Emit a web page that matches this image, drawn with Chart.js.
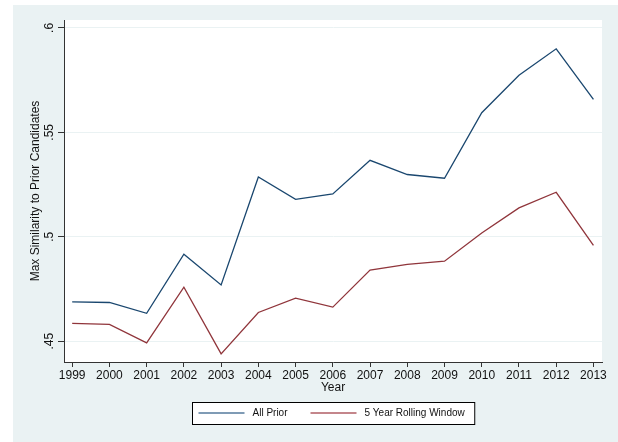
<!DOCTYPE html>
<html>
<head>
<meta charset="utf-8">
<script src="https://cdn.jsdelivr.net/npm/chart.js@4/dist/chart.umd.min.js"></script>
<style>
  html, body { margin: 0; padding: 0; background: #fff; }
  canvas { display: block; }
</style>
</head>
<body>
<canvas id="simChart" width="618" height="442"></canvas>
<script>
const YEARS = [1999, 2000, 2001, 2002, 2003, 2004, 2005, 2006, 2007, 2008, 2009, 2010, 2011, 2012, 2013];
const ALL_PRIOR = [0.4688, 0.4685, 0.4633, 0.4916, 0.4769, 0.5286, 0.5179, 0.5205, 0.5366, 0.5298, 0.5280, 0.5594, 0.5773, 0.5900, 0.5658];
const ROLLING_5 = [0.4585, 0.4580, 0.4492, 0.4758, 0.4439, 0.4637, 0.4706, 0.4663, 0.4840, 0.4868, 0.4883, 0.5018, 0.5138, 0.5213, 0.4959];
const Y_TICKS = [0.45, 0.5, 0.55, 0.6];
const SERIES_LABELS = ['All Prior', '5 Year Rolling Window'];

const FONT = 'Liberation Sans, Arial, sans-serif';
const PANEL = '#EAF2F3';
const NAVY = '#1a476f';
const MAROON = '#90353b';
const LEGEND_COLORS = ['#7f9bb5', '#c4868b'];

// stata-ish background: light panel + white plot region
const panelPlugin = {
    id: 'panel',
    beforeDraw(chart) {
        const ctx = chart.ctx;
        const a = chart.chartArea;
        ctx.save();
        ctx.fillStyle = '#fff';
        ctx.fillRect(0, 0, chart.width, chart.height);
        ctx.fillStyle = PANEL;
        ctx.fillRect(13, 5, chart.width - 13, chart.height - 5);
        ctx.fillStyle = '#fff';
        ctx.fillRect(a.left, a.top, a.right - a.left, a.bottom - a.top);
        ctx.restore();
    }
};

// boxed legend under the x title
const boxLegend = {
    id: 'boxLegend',
    afterDraw(chart) {
        const ctx = chart.ctx;
        const a = chart.chartArea;
        ctx.save();
        ctx.font = '10px ' + FONT;
        const lineLen = 46, gap = 8, itemGap = 23, padL = 6, padR = 10;
        const items = chart.data.datasets.map((ds, i) => ({
            text: ds.label,
            color: LEGEND_COLORS[i],
            w: ctx.measureText(ds.label).width
        }));
        let total = padL + padR;
        items.forEach((it, i) => { total += lineLen + gap + it.w + (i < items.length - 1 ? itemGap : 0); });
        const cx = (a.left + a.right) / 2;
        const top = 402, h = 22;
        const left = Math.round(cx - total / 2) + 0.5;
        ctx.fillStyle = '#fff';
        ctx.fillRect(left, top + 0.5, total, h);
        ctx.strokeStyle = '#000';
        ctx.lineWidth = 1;
        ctx.strokeRect(left, top + 0.5, total, h);
        let x = left + padL;
        const cy = top + h / 2;
        items.forEach(it => {
            ctx.strokeStyle = it.color;
            ctx.lineWidth = 2;
            ctx.beginPath();
            ctx.moveTo(x, cy);
            ctx.lineTo(x + lineLen, cy);
            ctx.stroke();
            x += lineLen + gap;
            ctx.fillStyle = '#111';
            ctx.textAlign = 'left';
            ctx.textBaseline = 'middle';
            ctx.fillText(it.text, x, cy + 0.5);
            x += it.w + itemGap;
        });
        ctx.restore();
    }
};

const ctx = document.getElementById('simChart').getContext('2d');
new Chart(ctx, {
    type: 'line',
    data: {
        datasets: [
            {
                label: SERIES_LABELS[0],
                data: YEARS.map((y, i) => ({ x: y, y: ALL_PRIOR[i] })),
                borderColor: NAVY,
                backgroundColor: NAVY,
                borderWidth: 1.3,
                pointRadius: 0,
                tension: 0
            },
            {
                label: SERIES_LABELS[1],
                data: YEARS.map((y, i) => ({ x: y, y: ROLLING_5[i] })),
                borderColor: MAROON,
                backgroundColor: MAROON,
                borderWidth: 1.3,
                pointRadius: 0,
                tension: 0
            }
        ]
    },
    options: {
        responsive: false,
        animation: false,
        layout: { padding: { left: 13, right: 16, top: 20, bottom: 47 } },
        plugins: {
            legend: { display: false },
            tooltip: { enabled: false }
        },
        scales: {
            x: {
                type: 'linear',
                min: 1998.78,
                max: 2013.23,
                afterBuildTicks: scale => { scale.ticks = YEARS.map(v => ({ value: v })); },
                afterFit: scale => { scale.height = 33; },
                grid: { drawOnChartArea: false, drawTicks: true, tickLength: 5, tickColor: '#333' },
                border: { display: true, color: '#333', width: 1 },
                ticks: {
                    padding: 1,
                    maxRotation: 0,
                    autoSkip: false,
                    color: '#111',
                    font: { family: FONT, size: 12 },
                    callback: v => String(v)
                },
                title: {
                    display: true,
                    text: 'Year',
                    color: '#111',
                    font: { family: FONT, size: 12 },
                    padding: { top: 0, bottom: 0 }
                }
            },
            y: {
                min: 0.44,
                max: 0.6038,
                afterBuildTicks: scale => { scale.ticks = Y_TICKS.map(v => ({ value: v })); },
                afterFit: scale => { scale.width = 51; },
                grid: { color: PANEL, lineWidth: 1, drawTicks: true, tickLength: 6, tickColor: '#333' },
                border: { display: true, color: '#333', width: 1 },
                ticks: {
                    minRotation: 90,
                    maxRotation: 90,
                    crossAlign: 'center',
                    padding: 0,
                    color: '#111',
                    font: { family: FONT, size: 12 },
                    callback: v => String(v).replace(/^0/, '')
                },
                title: {
                    display: true,
                    text: 'Max Similarity to Prior Candidates',
                    color: '#111',
                    font: { family: FONT, size: 12 },
                    padding: { top: 15, bottom: 0 }
                }
            }
        }
    },
    plugins: [panelPlugin, boxLegend]
});
</script>
</body>
</html>
